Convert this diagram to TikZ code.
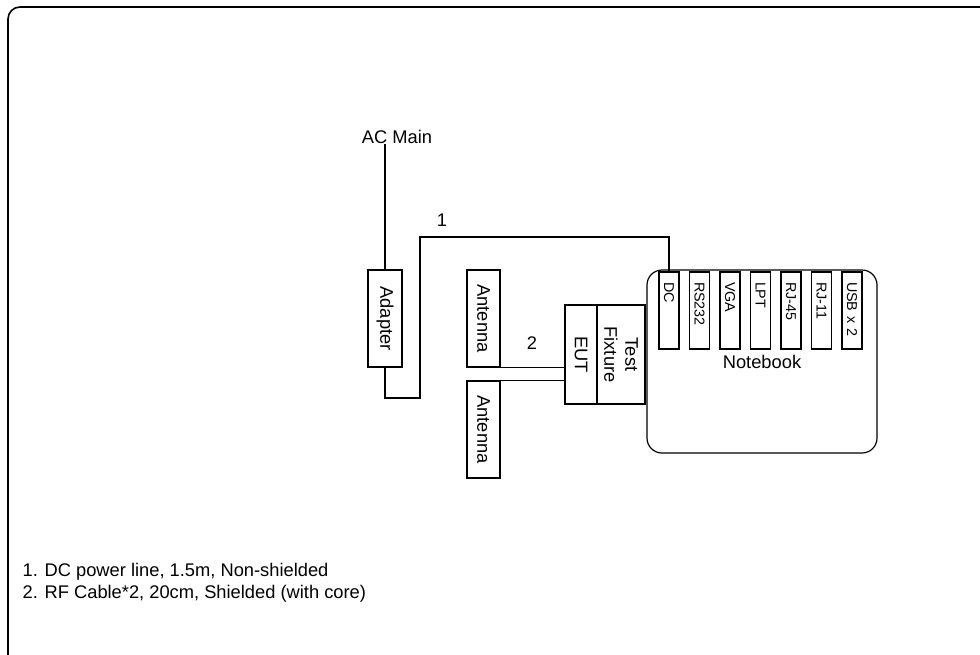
\documentclass[tikz,border=0pt]{standalone}
\usepackage{fontspec}
\setmainfont{Liberation Sans}
\usepackage{tikz}
\usetikzlibrary{positioning, calc}

\begin{document}
\begin{tikzpicture}[
    x=1pt, y=-1pt,
    line width=1.2pt,
    mainfont/.style={font=\fontsize{18.3}{21}\selectfont},
    block/.style={rectangle, draw, rotate=-90, mainfont, inner sep=2pt, align=center},
    port/.style={rectangle, draw, rotate=-90, font=\fontsize{14.3}{16}\selectfont, text width=57pt, align=left, inner xsep=10pt, inner ysep=0pt, minimum height=20pt},
    notebookbox/.style={rectangle, draw, rounded corners=15pt, mainfont, minimum width=230pt, minimum height=183pt},
    lbl/.style={mainfont, inner sep=0pt}
]
    \useasboundingbox (0,0) rectangle (980,654);
    % frame
    \draw[line width=1.6pt, rounded corners=12pt] (8,7) rectangle (1010,690);

    % power side
    \node[lbl] (acmain) at (397,137) {AC Main};
    \node[block, minimum width=97pt, minimum height=34pt] (adapter) at (385,318.5) {Adapter};

    % antennas, EUT and fixture
    \node[block, minimum width=97pt, minimum height=33pt] (ant1) at (483.5,318.5) {Antenna};
    \node[block, minimum width=97pt, minimum height=33pt] (ant2) at (483.5,429.5) {Antenna};
    \node[block, minimum width=99pt, minimum height=32pt] (eut) at (581,354.5) {EUT};
    \node[block, minimum width=99pt, minimum height=48pt] (fixture) at (621,354.5) {Test\\Fixture};

    % notebook with its ports
    \node[notebookbox] (notebook) at (762,361.5) {Notebook};
    \foreach \p [count=\i from 0] in {DC,RS232,VGA,LPT,RJ-45,RJ-11,USB x 2}
        \node[port] (port\i) at ({669+30.5*\i},310.5) {\p};

    % cable 1
    \coordinate (c1) at (420,398);
    \coordinate (c2) at (420,237);
    \draw (acmain.south -| adapter.west) -- (adapter.west);
    \draw (adapter.east) |- (c1) -- (c2) -| (port0.west);
    \node[lbl] (one) at (442,220) {1};

    % cable 2
    \draw (ant1.north east) -- (ant1.north east -| eut.south);
    \draw (ant2.north west) -- (ant2.north west -| eut.south);
    \node[lbl] (two) at (532,343) {2};

    % notes
    \node[lbl, anchor=west] (note1) at (22,572) {1. DC power line, 1.5m, Non-shielded};
    \node[lbl, anchor=west] (note2) at (22,594) {2. RF Cable*2, 20cm, Shielded (with core)};
\end{tikzpicture}
\end{document}
